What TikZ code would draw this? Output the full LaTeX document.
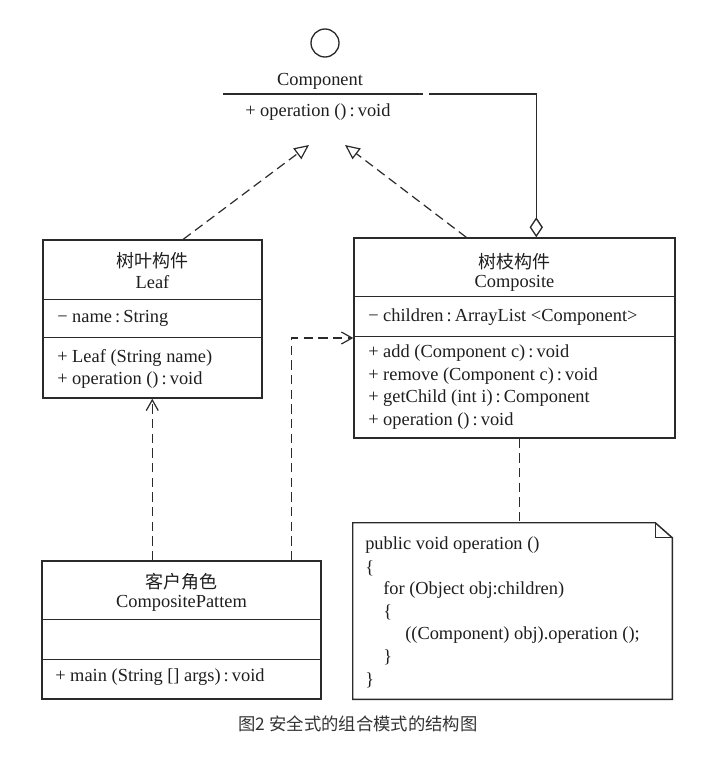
\documentclass[tikz,border=0pt]{standalone}
\usepackage{fontspec}
\setmainfont{Liberation Serif}
\newfontfamily\cjk{Noto Sans CJK SC}
\usetikzlibrary{arrows.meta,calc}
\definecolor{ln}{HTML}{2A2A2A}
\definecolor{txt}{HTML}{1E1E1E}
\definecolor{capc}{HTML}{333333}
\begin{document}
\begin{tikzpicture}[x=0.75pt,y=-0.75pt,
  every node/.style={font=\fontsize{13.8}{16}\selectfont, text=txt},
  umlbox/.style={draw=ln, line width=1.1pt, inner sep=0pt},
  boxline/.style={draw=ln, line width=1.1pt},
  txtl/.style={anchor=west, inner sep=0pt},
  txtc/.style={anchor=center, inner sep=0pt},
  cjkt/.style={font=\cjk\fontsize{13.5}{16}\selectfont},
  dashl/.style={draw=ln, line width=0.9pt, dash pattern=on 7pt off 4pt},
  real/.style={dashl, -{Triangle[open, length=11pt, width=10pt]}},
  dep/.style={dashl, -{Straight Barb[length=8pt, width=9pt]}},
  agg/.style={boxline, line width=1pt, -{Diamond[open, length=15pt, width=10pt]}}
]
\useasboundingbox (0,0) rectangle (718,760);

% ---------- Component interface ----------
\node[draw=ln, line width=1pt, circle, minimum size={28*0.75pt}, inner sep=0pt] (iface) at (325,43) {};
\node[txtc] (cname) at (320,81) {Component};
\coordinate (cl1) at (223,94);
\coordinate (cl2) at (423,94);
\draw[boxline] (cl1) -- (cl2);
\node[txtl] (cop) at (245,112) {+ operation ()\,:\,void};
\coordinate (tipL) at (309,145);
\coordinate (tipR) at (345,145);
\coordinate (aggS) at (429,94);

% ---------- Leaf ----------
\node[umlbox, minimum width={219*0.75pt}, minimum height={158*0.75pt}] (leaf) at (152.5,319) {};
\draw[boxline] ($(leaf.north west)+(0,60)$) -- ($(leaf.north east)+(0,60)$);
\draw[boxline] ($(leaf.north west)+(0,98)$) -- ($(leaf.north east)+(0,98)$);
\node[txtc, cjkt] (leafcn) at (152.5,261) {树叶构件};
\node[txtc] (leafn) at (152.5,282) {Leaf};
\node[txtl] (leafa) at (57,318) {− name\,:\,String};
\node[txtl] (leafm1) at (57,358) {+ Leaf (String name)};
\node[txtl] (leafm2) at (57,380) {+ operation ()\,:\,void};

% ---------- Composite ----------
\node[umlbox, minimum width={321*0.75pt}, minimum height={200*0.75pt}] (compo) at (514.5,338) {};
\draw[boxline] ($(compo.north west)+(0,59)$) -- ($(compo.north east)+(0,59)$);
\draw[boxline] ($(compo.north west)+(0,99)$) -- ($(compo.north east)+(0,99)$);
\node[txtc, cjkt] (compocn) at (514.5,262) {树枝构件};
\node[txtc] (compon) at (514.5,283) {Composite};
\node[txtl] (compoa) at (368,317) {− children\,:\,ArrayList <Component>};
\node[txtl] (compom1) at (368,353) {+ add (Component c)\,:\,void};
\node[txtl] (compom2) at (368,376) {+ remove (Component c)\,:\,void};
\node[txtl] (compom3) at (368,398) {+ getChild (int i)\,:\,Component};
\node[txtl] (compom4) at (368,421) {+ operation ()\,:\,void};

% ---------- Client ----------
\node[umlbox, minimum width={279*0.75pt}, minimum height={138*0.75pt}] (client) at (181.5,630) {};
\draw[boxline] ($(client.north west)+(0,59)$) -- ($(client.north east)+(0,59)$);
\draw[boxline] ($(client.north west)+(0,99)$) -- ($(client.north east)+(0,99)$);
\node[txtc, cjkt] (clientcn) at (181.5,582) {客户角色};
\node[txtc] (clientn) at (181.5,603) {CompositePattem};
\node[txtl] (clientm) at (55,677) {+ main (String [] args)\,:\,void};

% ---------- Note ----------
\node[inner sep=0pt, minimum width={319*0.75pt}, minimum height={176*0.75pt}] (note) at (512.5,611) {};
\draw[boxline] (note.north west) -- ($(note.north east)+(-17,0)$) -- ($(note.north east)+(0,15)$)
  -- (note.south east) -- (note.south west) -- cycle;
\draw[boxline, line width=1pt] ($(note.north east)+(-17,0)$) -- ($(note.north east)+(-17,15)$) -- ($(note.north east)+(0,15)$);
\node[txtl] (n1) at (365,545) {public void operation ()};
\node[txtl] (n2) at (365,568) {\{};
\node[txtl] (n3) at (383,590) {for (Object obj:children)};
\node[txtl] (n4) at (383,612) {\{};
\node[txtl] (n5) at (405,635) {((Component) obj).operation ();};
\node[txtl] (n6) at (383,657) {\}};
\node[txtl] (n7) at (365,680) {\}};

% ---------- Connectors ----------
\draw[real] ($(leaf.north west)+(141,0)$) -- (tipL);
\draw[real] ($(compo.north west)+(113,0)$) -- (tipR);
\draw[agg] (aggS) -| ($(compo.north west)+(183,0)$);
\draw[dep] ($(client.north west)+(111,0)$) coordinate (d1) -- (d1 |- leaf.south);
\draw[dep] ($(client.north west)+(250,0)$) |- (compo.west);
\draw[dashl] ($(compo.south west)+(166,0)$) coordinate (nl) -- (nl |- note.north);

% ---------- Caption ----------
\node[font=\cjk\fontsize{13}{15}\selectfont, text=capc, inner sep=0pt] (cap) at (358,724) {图2 安全式的组合模式的结构图};
\end{tikzpicture}
\end{document}
